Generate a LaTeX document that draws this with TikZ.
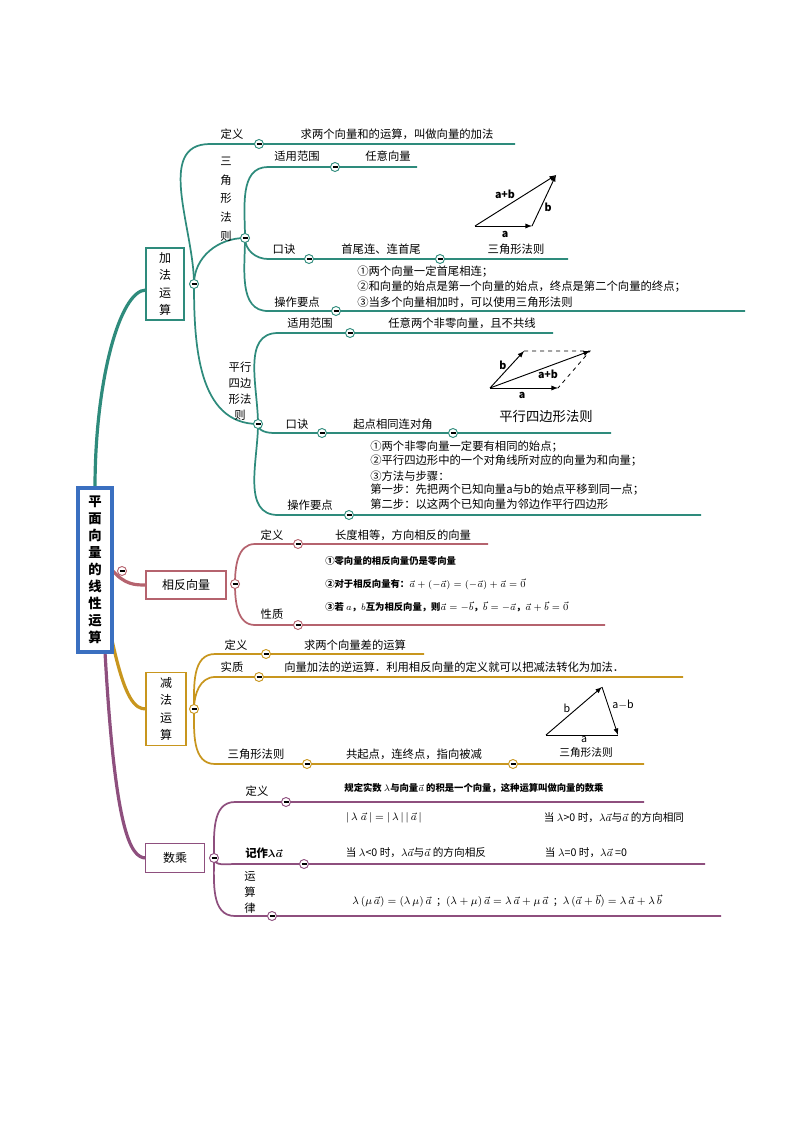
\documentclass[tikz,border=0pt]{standalone}
\usepackage{bm}
\usepackage{fontspec}
\setmainfont{Noto Sans CJK SC}
\begin{document}
\begin{tikzpicture}[x=0.75pt,y=-0.75pt,
  t/.style={font=\fontsize{8.5}{10}\selectfont,inner sep=0pt,anchor=center},
  tl/.style={t,anchor=west},
  br/.style={draw=#1,line width=1.3pt},
  rb/.style={draw=#1,line width=2.4pt},
  cc/.style={circle,draw=#1,fill=white,line width=0.7pt,inner sep=0pt,minimum size=6.75pt,
    path picture={\draw[line width=0.8pt,black] ([xshift=1.5pt]path picture bounding box.west) -- ([xshift=-1.5pt]path picture bounding box.east);}},
  bx/.style={draw=#1,line width=1pt,fill=white,inner sep=0pt,align=center,font=\fontsize{9}{13}\selectfont},
  vec/.style={-latex,line width=0.7pt}]
\definecolor{tea}{HTML}{2E8B7C}
\definecolor{red}{HTML}{B5636E}
\definecolor{gol}{HTML}{C8961E}
\definecolor{pur}{HTML}{8E4F7E}
\definecolor{blu}{HTML}{3A6FC0}
\useasboundingbox (0,0) rectangle (794,1123);
% circle coordinates
\coordinate (R) at (122,571);
\coordinate (A) at (194,284);
\coordinate (A1) at (259,144);
\coordinate (AT) at (245,238);
\coordinate (AT1) at (335,167);
\coordinate (AT2) at (309,259);
\coordinate (AT2b) at (440,259);
\coordinate (AT3) at (336,311);
\coordinate (AP) at (258,424);
\coordinate (AP1) at (350,333);
\coordinate (AP2) at (322,433);
\coordinate (AP2b) at (453,433);
\coordinate (AP3) at (349,515);
\coordinate (X) at (235,584);
\coordinate (X1) at (298,544);
\coordinate (X2) at (298,625);
\coordinate (S) at (194,709);
\coordinate (S1) at (266,654);
\coordinate (S2) at (259,677);
\coordinate (S3) at (307,764);
\coordinate (S3b) at (513,764);
\coordinate (M) at (214,858);
\coordinate (M1) at (286,802);
\coordinate (M2) at (304,864);
\coordinate (M3) at (272,916);
% root branches
\draw[rb=tea] (95,488) .. controls (95,380) and (120,290) .. (146,290);
\draw[rb=red] (112,570) .. controls (125,585) and (135,585) .. (146,585);
\draw[rb=gol] (112,640) .. controls (125,700) and (135,709) .. (146,709);
\draw[rb=pur] (105,652) .. controls (115,830) and (130,858) .. (146,858);
% addition
\draw[br=tea] (A) to[out=90,in=180] (210,144) -- (515,144);
\draw[br=tea] (A) to[out=90,in=180] (AT) ;
\draw[br=tea] (A) to[out=-90,in=180] (AP);
\draw[br=tea] (AT) to[out=90,in=180] (268,167) -- (417,167);
\draw[br=tea] (AT) to[out=-90,in=180] (268,259) -- (568,259);
\draw[br=tea] (AT) to[out=-90,in=180] (268,311) -- (745,311);
\draw[br=tea] (AP) to[out=90,in=180] (278,333) -- (553,333);
\draw[br=tea] (AP) to[out=-90,in=180] (275,433) -- (611,433);
\draw[br=tea] (AP) to[out=-90,in=180] (278,515) -- (701,515);
% opposite
\draw[br=red] (X) to[out=90,in=180] (255,544) -- (488,544);
\draw[br=red] (X) to[out=-90,in=180] (255,625) -- (605,625);
% subtraction
\draw[br=gol] (S) to[out=90,in=180] (215,654) -- (424,654);
\draw[br=gol] (S) to[out=90,in=180] (215,677) -- (683,677);
\draw[br=gol] (S) to[out=-90,in=180] (215,764) -- (644,764);
% scalar
\draw[br=pur] (M) to[out=90,in=180] (235,802) -- (644,802);
\draw[br=pur] (M) to[out=-90,in=180] (235,864) -- (705,864);
\draw[br=pur] (M) to[out=-90,in=180] (235,916) -- (721,916);
% boxes
\node[draw=blu,line width=2.5pt,fill=white,minimum width=25.5pt,minimum height=123pt,inner sep=0pt,align=center,font=\bfseries\fontsize{10}{12.8}\selectfont] (root) at (95,570) {平\\面\\向\\量\\的\\线\\性\\运\\算};
\node[bx=tea,minimum width=28.5pt,minimum height=54pt] (bA) at (165,284) {加\\法\\运\\算};
\node[bx=red,minimum width=60pt,minimum height=21pt] (bX) at (186,585) {相反向量};
\node[bx=gol,minimum width=30pt,minimum height=54.75pt] (bS) at (166,709) {减\\法\\运\\算};
\node[bx=pur,minimum width=44.25pt,minimum height=21.75pt] (bM) at (175,858) {数乘};
% circles
\foreach \c in {A,A1,AT,AT1,AT2,AT2b,AT3,AP,AP1,AP2,AP2b,AP3} \node[cc=tea] (n\c) at (\c) {};
\foreach \c in {X,X1,X2,R} \node[cc=red] (n\c) at (\c) {};
\foreach \c in {S,S1,S2,S3,S3b} \node[cc=gol] (n\c) at (\c) {};
\foreach \c in {M,M1,M2,M3} \node[cc=pur] (n\c) at (\c) {};
% addition texts
\node[t] (l1) at (232,134) {定义};
\node[t] (l2) at (397,134) {求两个向量和的运算，叫做向量的加法};
\node[t,align=center,font=\fontsize{8.5}{14}\selectfont] (l3) at (226,199) {三\\角\\形\\法\\则};
\node[t] (l4) at (297,156) {适用范围};
\node[t] (l5) at (388,156) {任意向量};
\node[t] (l6) at (284,249) {口诀};
\node[t] (l7) at (381,249) {首尾连、连首尾};
\node[t] (l8) at (516,249) {三角形法则};
\node[t] (l9) at (297,302) {操作要点};
\node[tl] (l10) at (357,272) {①两个向量一定首尾相连；};
\node[tl] (l11) at (357,287) {②和向量的始点是第一个向量的始点，终点是第二个向量的终点；};
\node[tl] (l12) at (357,302) {③当多个向量相加时，可以使用三角形法则};
\coordinate (t1) at (475,226); \coordinate (t2) at (532,226); \coordinate (t3) at (556,175);
\draw[vec] (t1) -- (t2); \draw[vec] (t2) -- (t3); \draw[vec] (t1) -- (t3);
\node[t,font=\bfseries\itshape\fontsize{8}{9}\selectfont] (ta) at (505,234) {a};
\node[t,font=\bfseries\itshape\fontsize{8}{9}\selectfont] (tb) at (548,207) {b};
\node[t,font=\bfseries\itshape\fontsize{8}{9}\selectfont] (tab) at (505,194) {a+b};
\node[t,align=center,font=\fontsize{8.5}{12}\selectfont] (l13) at (240,391) {平行\\四边\\形法\\则};
\node[t] (l14) at (310,323) {适用范围};
\node[t] (l15) at (462,323) {任意两个非零向量，且不共线};
\coordinate (p0) at (490,388); \coordinate (p1) at (558,388); \coordinate (p2) at (524,351); \coordinate (p3) at (590,351);
\draw[vec] (p0) -- (p1); \draw[vec] (p0) -- (p2); \draw[vec] (p0) -- (p3);
\draw[dashed,line width=0.6pt] (p2) -- (p3) -- (p1);
\node[t,font=\bfseries\itshape\fontsize{8}{9}\selectfont] (pb) at (503,365) {b};
\node[t,font=\bfseries\itshape\fontsize{8}{9}\selectfont] (pab) at (548,374) {a+b};
\node[t,font=\bfseries\itshape\fontsize{8}{9}\selectfont] (pa) at (522,395) {a};
\node[t,font=\fontsize{10}{12}\selectfont] (l16) at (546,416) {平行四边形法则};
\node[t] (l17) at (297,424) {口诀};
\node[t] (l18) at (393,424) {起点相同连对角};
\node[t] (l19) at (310,505) {操作要点};
\node[tl] (l20) at (370,447) {①两个非零向量一定要有相同的始点；};
\node[tl] (l21) at (370,461) {②平行四边形中的一个对角线所对应的向量为和向量；};
\node[tl] (l22) at (370,476) {③方法与步骤：};
\node[tl] (l23) at (370,490) {第一步：先把两个已知向量a与b的始点平移到同一点；};
\node[tl] (l24) at (370,504) {第二步：以这两个已知向量为邻边作平行四边形};
% opposite
\node[t] (x1) at (272,535) {定义};
\node[t] (x2) at (403,535) {长度相等，方向相反的向量};
\node[tl,font=\bfseries\fontsize{7}{9}\selectfont] (x3) at (325,561) {①零向量的相反向量仍是零向量};
\node[tl,font=\bfseries\fontsize{7}{9}\selectfont] (x4) at (325,584) {②对于相反向量有：$\vec{a}+(-\vec{a})=(-\vec{a})+\vec{a}=\vec{0}$};
\node[tl,font=\bfseries\fontsize{7}{9}\selectfont] (x5) at (325,607) {③若 $a$，$b$互为相反向量，则$\vec{a}=-\vec{b}$，$\vec{b}=-\vec{a}$，$\vec{a}+\vec{b}=\vec{0}$};
\node[t] (x6) at (272,614) {性质};
% subtraction
\node[t] (s1) at (236,645) {定义};
\node[t] (s2) at (355,645) {求两个向量差的运算};
\node[t] (s3) at (232,667) {实质};
\node[tl] (s4) at (284,667) {向量加法的逆运算．利用相反向量的定义就可以把减法转化为加法．};
\coordinate (u1) at (546,735); \coordinate (u2) at (618,735); \coordinate (u3) at (602,687);
\draw[vec] (u1) -- (u3); \draw[vec] (u3) -- (u2); \draw[line width=0.7pt] (u1) -- (u2);
\node[t,font=\itshape\fontsize{8}{9}\selectfont] (ub) at (567,708) {b};
\node[t,font=\itshape\fontsize{8}{9}\selectfont] (uab) at (623,705) {a$-$b};
\node[t,font=\itshape\fontsize{8}{9}\selectfont] (ua) at (584,740) {a};
\node[t,font=\fontsize{8}{9}\selectfont] (s5) at (586,752) {三角形法则};
\node[t] (s6) at (256,754) {三角形法则};
\node[t] (s7) at (414,754) {共起点，连终点，指向被减};
% scalar
\node[t] (m1) at (257,791) {定义};
\node[t,font=\bfseries\fontsize{7}{9}\selectfont] (m2) at (474,788) {规定实数 $\lambda$与向量$\vec{a}$ 的积是一个向量，这种运算叫做向量的数乘};
\node[t,font=\fontsize{8}{9}\selectfont] (m3) at (384,818) {$|\,\lambda\;\vec{a}\,|=|\,\lambda\,|\,|\,\vec{a}\,|$};
\node[t,font=\fontsize{8}{9}\selectfont] (m4) at (614,818) {当 $\lambda$>0 时，$\lambda\vec{a}$与$\vec{a}$ 的方向相同};
\node[t,font=\bfseries\fontsize{8.5}{10}\selectfont] (m5) at (264,853) {记作$\bm{\lambda\vec{a}}$};
\node[t,font=\fontsize{8}{9}\selectfont] (m6) at (416,853) {当 $\lambda$<0 时，$\lambda\vec{a}$与$\vec{a}$ 的方向相反};
\node[t,font=\fontsize{8}{9}\selectfont] (m7) at (586,853) {当 $\lambda$=0 时，$\lambda\vec{a}$ =0};
\node[t,align=center,font=\fontsize{8.5}{12}\selectfont] (m8) at (250,892) {运\\算\\律};
\node[t,font=\fontsize{8.5}{9}\selectfont] (m9) at (507,901) {$\lambda\,(\mu\,\vec{a})=(\lambda\,\mu)\,\vec{a}$\enspace;\enspace$(\lambda+\mu)\,\vec{a}=\lambda\,\vec{a}+\mu\,\vec{a}$\enspace;\enspace$\lambda\,(\vec{a}+\vec{b})=\lambda\,\vec{a}+\lambda\,\vec{b}$};
\end{tikzpicture}
\end{document}
